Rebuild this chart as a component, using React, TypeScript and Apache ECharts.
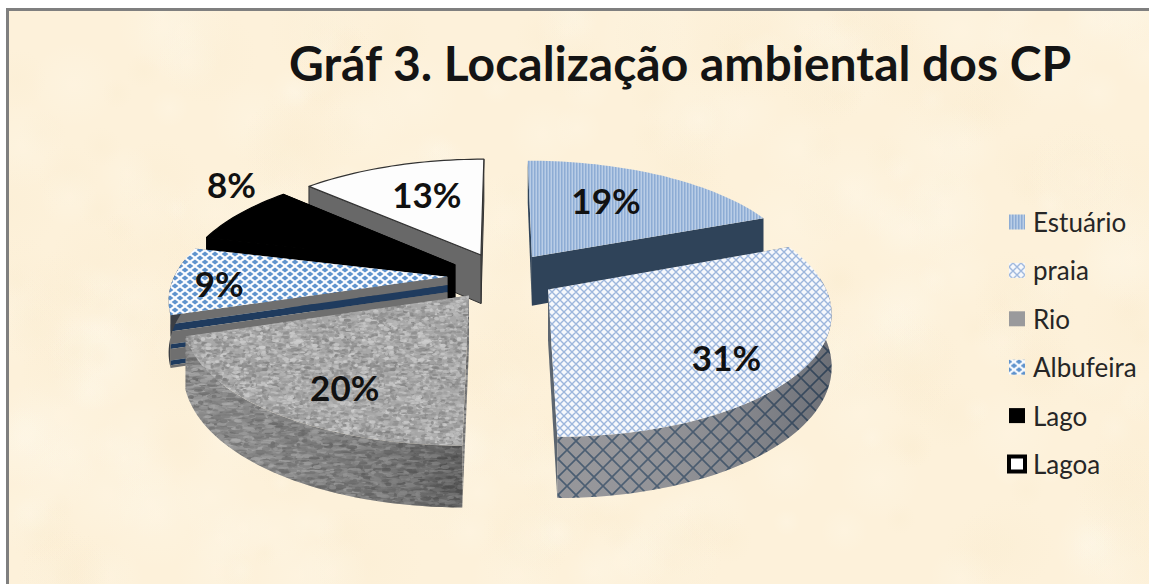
import React, { useEffect, useRef } from "react";
import * as echarts from "echarts";

const titleText = "Gráf 3. Localização ambiental dos CP";
const categories = ["Estuário", "praia", "Rio", "Albufeira", "Lago", "Lagoa"];
const values = [19, 31, 20, 9, 8, 13];

// Layout of the perspective pie
const CX = 502, CY = 276, RX = 273, KY = 118, PERSP = 0.165, DEPTH = 50, EXPLODE = 0.2;
const paintOrder = [3, 5, 4, 2, 1, 0]; // seriesIndex -> z rank, back slices first
const labelRadius = [0.64, 0.77, 0.75, 0.82, 1.24, 0.64];
const labelTurn = [-4, 7, -6, -2, 11, 3];

function lcg(seed: number) {
  let s = seed;
  return () => {
    s = (s * 1664525 + 1013904223) % 4294967296;
    return s / 4294967296;
  };
}

function makeCanvas(w: number, h: number, draw: (c: CanvasRenderingContext2D) => void) {
  const cv = document.createElement("canvas");
  cv.width = w;
  cv.height = h;
  draw(cv.getContext("2d") as CanvasRenderingContext2D);
  return { image: cv, repeat: "repeat", imageWidth: w, imageHeight: h } as any;
}

function buildTextures() {
  const stripes = makeCanvas(3, 3, (c) => {
    c.fillStyle = "#b9cde6"; c.fillRect(0, 0, 3, 3);
    c.fillStyle = "#8dacd4"; c.fillRect(0, 0, 1.5, 3);
  });
  const hatch = (size: number, bg: string, line: string, lw: number) =>
    makeCanvas(size, size, (c) => {
      c.fillStyle = bg; c.fillRect(0, 0, size, size);
      c.strokeStyle = line; c.lineWidth = lw;
      c.beginPath();
      c.moveTo(-1, size / 2 + 1); c.lineTo(size / 2 + 1, -1);
      c.moveTo(size / 2 - 1, size + 1); c.lineTo(size + 1, size / 2 - 1);
      c.moveTo(-1, size / 2 - 1); c.lineTo(size / 2 + 1, size + 1);
      c.moveTo(size / 2 - 1, -1); c.lineTo(size + 1, size / 2 + 1);
      c.stroke();
    });
  const lattice = hatch(8, "#f6f8fc", "#9db6dc", 1.4);
  const latticeWall = hatch(18, "#8f8f93", "#3e5268", 1.6);
  const noise = (w: number, h: number, seed: number, lo: number, hi: number, sx: number, sy: number) =>
    makeCanvas(w, h, (c) => {
      const r = lcg(seed);
      const m = Math.round((lo + hi) / 2);
      c.fillStyle = `rgb(${m},${m},${m})`;
      c.fillRect(0, 0, w, h);
      for (let i = 0; i < (w * h) / 5; i++) {
        const v = Math.round(lo + (hi - lo) * r());
        const x = r() * w, y = r() * h, a = sx * (0.5 + r()), b = sy * (0.5 + r());
        c.fillStyle = `rgba(${v},${v},${v},0.75)`;
        // drawn with wrapped copies, so that the tile has no seams
        for (const dx of [-w, 0, w]) {
          for (const dy of [-h, 0, h]) {
            c.beginPath();
            c.ellipse(x + dx, y + dy, a, b, 0, 0, Math.PI * 2);
            c.fill();
          }
        }
      }
    });
  const stone = noise(128, 128, 17, 125, 210, 2.4, 1.3);
  const stoneWall = noise(128, 128, 41, 90, 165, 4, 1.4);
  const checker = makeCanvas(10, 8, (c) => {
    c.fillStyle = "#fbfcfe"; c.fillRect(0, 0, 10, 8);
    c.fillStyle = "#5f93cd";
    const d = (x: number, y: number) => {
      c.beginPath();
      c.moveTo(x - 3.4, y); c.lineTo(x, y - 2.5); c.lineTo(x + 3.4, y); c.lineTo(x, y + 2.5);
      c.closePath(); c.fill();
    };
    [[0, 2], [10, 2], [5, 6], [0, -2], [10, 10], [5, -2], [5, 10], [0, 10], [10, -2]].forEach(([x, y]) => d(x, y));
  });
  const paper = makeCanvas(1149, 584, (c) => {
    c.fillStyle = "#fdf1da"; c.fillRect(0, 0, 1149, 584);
    const r = lcg(5);
    for (let i = 0; i < 380; i++) {
      const x = r() * 1149, y = r() * 584, rad = 12 + r() * 45;
      const g = c.createRadialGradient(x, y, 0, x, y, rad);
      const col = r() > 0.45 ? "255,248,234" : "250,236,208";
      g.addColorStop(0, `rgba(${col},0.3)`);
      g.addColorStop(1, `rgba(${col},0)`);
      c.fillStyle = g;
      c.fillRect(x - rad, y - rad, rad * 2, rad * 2);
    }
  });
  return { stripes, lattice, latticeWall, stone, stoneWall, checker, paper };
}

function project(X: number, Y: number, z: number) {
  const f = 1 / (1 - PERSP * Y);
  return [CX + X * RX * f, CY + Y * KY * f + z * DEPTH * f];
}

function App() {
  const ref = useRef<HTMLDivElement>(null);
  useEffect(() => {
    document.body.style.margin = "0";
    document.body.style.background = "#ffffff";
    const chart = echarts.init(ref.current as HTMLDivElement, undefined, { renderer: "svg" });
    const t = buildTextures();

    const total = values.reduce((a, b) => a + b, 0);
    const starts: number[] = [];
    values.reduce((acc, v, i) => {
      starts[i] = acc;
      return acc + v;
    }, 0);

    const looks = [
      { top: t.stripes, wall: "#2f4359", arc: "#2f4359", stroke: "none" },
      { top: t.lattice, wall: "#5d6670", arc: t.latticeWall, stroke: "none" },
      { top: t.stone, wall: t.stoneWall, arc: t.stoneWall, stroke: "none" },
      { top: t.checker, wall: "#6b6b6b", arc: "#3b3f45", stroke: "none", bands: true },
      { top: "#000000", wall: "#000000", arc: "#000000", stroke: "#000000" },
      { top: "#fdfdfd", wall: "#686868", arc: "#686868", stroke: "#333333" },
    ];
    const legendFill = [t.stripes, t.lattice, "#9a9a9c", t.checker, "#000000", "#ffffff"];
    const bandList = [
      [0, 0.17, "#6f6f6f"], [0.17, 0.31, "#1f3b5e"], [0.31, 0.55, "#6f6f6f"],
      [0.55, 0.64, "#1f3b5e"], [0.64, 0.86, "#6f6f6f"], [0.86, 0.95, "#1f3b5e"], [0.95, 1, "#6f6f6f"],
    ];

    const renderSlice = (params: any, api: any) => {
      const i = params.seriesIndex;
      const look: any = looks[i];
      const a0 = (starts[i] / total) * Math.PI * 2;
      const a1 = ((starts[i] + api.value(0)) / total) * Math.PI * 2;
      const mid = (a0 + a1) / 2;
      const ex = Math.sin(mid) * EXPLODE;
      const ey = -Math.cos(mid) * EXPLODE;
      const world = (r: number, a: number): [number, number] => [ex + r * Math.sin(a), ey - r * Math.cos(a)];
      const pt = (r: number, a: number, z: number) => {
        const w = world(r, a);
        return project(w[0], w[1], z);
      };
      const arc = (b0: number, b1: number, z: number) => {
        const n = Math.max(2, Math.ceil(Math.abs(b1 - b0) / 0.03));
        const out: number[][] = [];
        for (let k = 0; k <= n; k++) out.push(pt(1, b0 + ((b1 - b0) * k) / n, z));
        return out;
      };
      const kids: any[] = [];
      const poly = (points: number[][], fill: any, stroke = "none", lw = 0) =>
        kids.push({
          type: "polygon",
          shape: { points },
          style: { fill, stroke, lineWidth: lw, lineJoin: "round" },
          z2: kids.length,
          silent: true,
        });
      const radialWall = (a: number) => {
        if (look.bands) {
          bandList.forEach(([z0, z1, col]: any) =>
            poly([pt(0, a, z0), pt(1, a, z0), pt(1, a, z1), pt(0, a, z1)], col)
          );
        } else {
          poly([pt(0, a, 0), pt(1, a, 0), pt(1, a, 1), pt(0, a, 1)], look.wall, look.stroke, look.stroke === "none" ? 0 : 1);
        }
      };
      // the wall further from the viewer goes first
      [a0, a1].sort((p, q) => Math.cos(q) - Math.cos(p)).forEach(radialWall);
      const v0 = Math.max(a0, Math.PI * 0.47);
      const v1 = Math.min(a1, Math.PI * 1.55);
      if (v1 > v0) {
        const pts = [...arc(v0, v1, 0), ...arc(v1, v0, 1)];
        poly(pts, look.arc, look.stroke, look.stroke === "none" ? 0 : 1);
        if (i === 1 || i === 2) {
          poly(pts, {
            type: "linear", x: 0, y: 0, x2: 1, y2: 0,
            colorStops: i === 1
              ? [{ offset: 0, color: "rgba(255,255,255,0.06)" }, { offset: 1, color: "rgba(20,30,45,0.28)" }]
              : [{ offset: 0, color: "rgba(255,255,255,0.08)" }, { offset: 1, color: "rgba(20,20,20,0.28)" }],
          });
        }
      }
      poly([pt(0, a0, 0), ...arc(a0, a1, 0)], look.top, look.stroke, look.stroke === "none" ? 0 : 1.2);
      return { type: "group", children: kids };
    };

    const renderLabel = (params: any, api: any) => {
      const i = params.seriesIndex - values.length;
      const a0 = (starts[i] / total) * Math.PI * 2;
      const a1 = ((starts[i] + api.value(0)) / total) * Math.PI * 2;
      const mid = (a0 + a1) / 2;
      const ex = Math.sin(mid) * EXPLODE, ey = -Math.cos(mid) * EXPLODE;
      const b = mid + (labelTurn[i] * Math.PI) / 180;
      const p = project(ex + labelRadius[i] * Math.sin(b), ey - labelRadius[i] * Math.cos(b), 0);
      return {
        type: "text",
        x: p[0] - 2,
        y: p[1],
        silent: true,
        style: {
          text: Math.round(api.value(0)) + "%",
          fill: "#111111",
          font: "bold 35px Lato",
          align: "center",
          verticalAlign: "middle",
        },
      };
    };

    chart.setOption({
      animation: false,
      title: {
        text: titleText,
        left: 284,
        top: 33,
        textStyle: { fontFamily: "Lato", fontWeight: "bold", fontSize: 48, color: "#141414" },
      },
      legend: {
        orient: "vertical",
        left: 1002,
        top: 204,
        itemWidth: 16,
        itemHeight: 15,
        itemGap: 22.4,
        selectedMode: false,
        textStyle: { fontFamily: "Lato", fontSize: 26, color: "#262626", padding: [0, 0, 0, 3] },
        data: categories.map((name, i) => ({
          name,
          icon: "rect",
          itemStyle:
            i === 5
              ? { color: "#ffffff", borderColor: "#000000", borderWidth: 4 }
              : { color: legendFill[i], borderWidth: 0 },
        })),
      },
      graphic: [
        { type: "rect", z: -10, silent: true, shape: { x: 7.5, y: 9.5, width: 1200, height: 700 }, style: { fill: t.paper, stroke: "#7f7f7f", lineWidth: 3 } },
      ],
      series: [
        ...categories.map((name, i) => ({
          type: "custom",
          name,
          coordinateSystem: "none",
          z: 2 + paintOrder[i],
          data: [[values[i]]],
          renderItem: renderSlice,
          silent: true,
        })),
        ...categories.map((name, i) => ({
          type: "custom",
          name: name + " (rótulo)",
          coordinateSystem: "none",
          z: 20,
          data: [[values[i]]],
          renderItem: renderLabel,
          silent: true,
        })),
      ],
    });
    return () => chart.dispose();
  }, []);
  return <div ref={ref} style={{ position: "absolute", left: 0, top: 0, width: 1149, height: 584 }} />;
}

export default App;
